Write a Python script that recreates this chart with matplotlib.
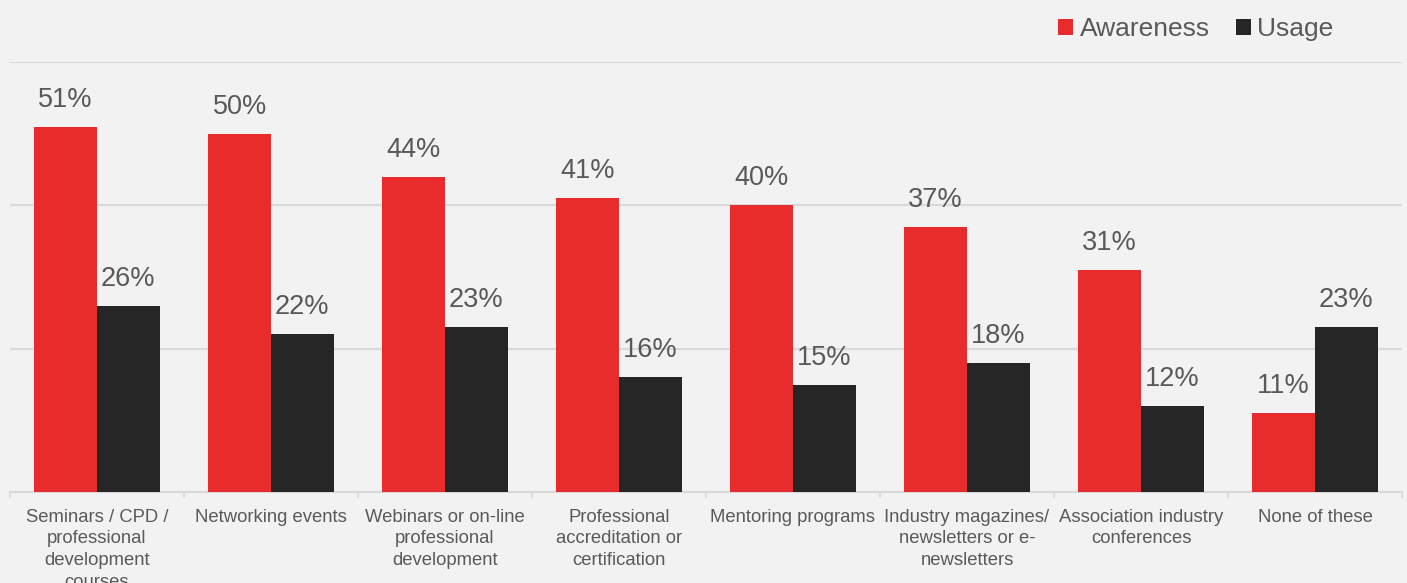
import numpy as np
import matplotlib.pyplot as plt

plt.rcParams['font.family'] = ['Liberation Sans', 'DejaVu Sans']

categories = [
    "Seminars / CPD /\nprofessional\ndevelopment\ncourses",
    "Networking events",
    "Webinars or on-line\nprofessional\ndevelopment",
    "Professional\naccreditation or\ncertification",
    "Mentoring programs",
    "Industry magazines/\nnewsletters or e-\nnewsletters",
    "Association industry\nconferences",
    "None of these",
]
awareness = [51, 50, 44, 41, 40, 37, 31, 11]
usage = [26, 22, 23, 16, 15, 18, 12, 23]

RED = '#e82c2e'
DARK = '#262626'
TEXT = '#595959'
BG = '#f2f2f2'
GRID = '#d9d9d9'

W, H = 1407, 583
fig = plt.figure(figsize=(W / 100, H / 100), dpi=100, facecolor=BG)
ax = fig.add_axes([10 / W, (H - 492) / H, (1402 - 10) / W, (492 - 62) / H])
ax.set_facecolor(BG)

x = np.arange(len(categories))
bw = 0.36
b1 = ax.bar(x - bw / 2, awareness, bw, color=RED, label='Awareness', zorder=3)
b2 = ax.bar(x + bw / 2, usage, bw, color=DARK, label='Usage', zorder=3)

for bars, vals in ((b1, awareness), (b2, usage)):
    for rect, v in zip(bars, vals):
        ax.annotate(f"{v}%", (rect.get_x() + rect.get_width() / 2, v),
                    xytext=(0, 10), textcoords='offset points',
                    ha='center', va='bottom', fontsize=19.5, color=TEXT)

ax.set_xlim(-0.5, len(categories) - 0.5)
ax.set_ylim(0, 60)
ax.set_yticks([0, 20, 40, 60])
ax.yaxis.grid(True, color=GRID, linewidth=1.5, zorder=0)
ax.tick_params(axis='y', left=False, labelleft=False)

ax.set_xticks(x)
ax.set_xticklabels(categories, fontsize=13.3, color=TEXT, linespacing=1.36)
ax.set_xticks(np.arange(len(categories) + 1) - 0.5, minor=True)
ax.tick_params(axis='x', which='major', length=0, pad=12)
ax.tick_params(axis='x', which='minor', length=4, color=GRID, width=1.2)

for side in ('top', 'right', 'left'):
    ax.spines[side].set_visible(False)
ax.spines['bottom'].set_color(GRID)
ax.spines['bottom'].set_linewidth(1.5)

leg = ax.legend(loc='center right', bbox_to_anchor=(1344 / W, 1 - 29 / H),
                bbox_transform=fig.transFigure, ncol=2, frameon=False,
                fontsize=19, handlelength=0.55, handleheight=0.55,
                handletextpad=0.25, columnspacing=1.0, borderaxespad=0)
for t in leg.get_texts():
    t.set_color(TEXT)

fig.savefig('out.png', dpi=100, facecolor=BG)
